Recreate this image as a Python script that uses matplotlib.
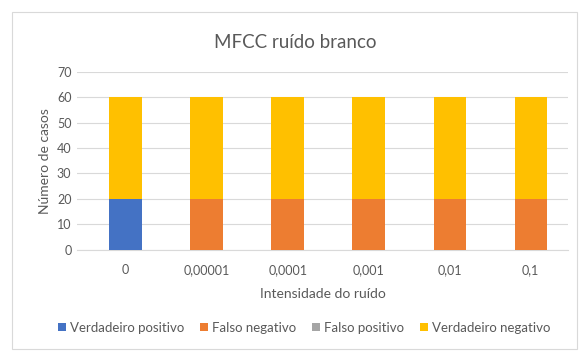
import matplotlib.pyplot as plt
from matplotlib.patches import Rectangle
import numpy as np

# casos por intensidade de ruido
intensidades = ["0", "0,00001", "0,0001", "0,001", "0,01", "0,1"]
verdadeiro_positivo = [20, 0, 0, 0, 0, 0]
falso_negativo = [0, 20, 20, 20, 20, 20]
falso_positivo = [0, 0, 0, 0, 0, 0]
verdadeiro_negativo = [40, 40, 40, 40, 40, 40]

series = [
	("Verdadeiro positivo", verdadeiro_positivo, "#4472C4"),
	("Falso negativo", falso_negativo, "#ED7D31"),
	("Falso positivo", falso_positivo, "#A5A5A5"),
	("Verdadeiro negativo", verdadeiro_negativo, "#FFC000"),
]

plt.rcParams['font.family'] = ['Lato', 'DejaVu Sans']
txt = "#595959"

fig = plt.figure(figsize=(5.85, 3.51), dpi=100)
fig.patches.append(Rectangle((12/585, 1 - 349/351), 565/585, 337/351, transform=fig.transFigure,
	fill=False, edgecolor="#D9D9D9", linewidth=0.8))

ax = fig.add_axes([77/585, 0.288, 491/585, 0.508])
xs = np.arange(len(intensidades))
bottom = np.zeros(len(intensidades))
for nome, vals, cor in series:
	ax.bar(xs, vals, width=0.4, bottom=bottom, color=cor, label=nome, zorder=3)
	bottom += np.array(vals)

ax.set_xlim(-0.6, len(intensidades) - 0.54)
ax.set_ylim(0, 70)
ax.set_yticks(range(0, 71, 10))
ax.set_xticks(xs)
ax.set_xticklabels(intensidades)
ax.grid(axis="y", color="#D9D9D9", linewidth=0.8, zorder=0)
for s in ["top", "right", "left"]:
	ax.spines[s].set_visible(False)
ax.spines["bottom"].set_color("#D9D9D9")
ax.tick_params(length=0, colors=txt, labelsize=9)
ax.tick_params(axis="x", pad=10)
ax.tick_params(axis="y", pad=4)

ax.set_xlabel("Intensidade do ruído", color=txt, fontsize=10, labelpad=9)
ax.set_ylabel("Número de casos", color=txt, fontsize=10, labelpad=4)
fig.text(0.505, 0.88, "MFCC ruído branco", ha="center", va="center", color=txt, fontsize=13.5)

fig.legend(loc="center", bbox_to_anchor=(0.52, 0.066), ncol=4, frameon=False, fontsize=9.5,
	labelcolor=txt, handlelength=0.6, handleheight=0.6, handletextpad=0.3, columnspacing=1.2)

fig.savefig("out.png", dpi=100)
